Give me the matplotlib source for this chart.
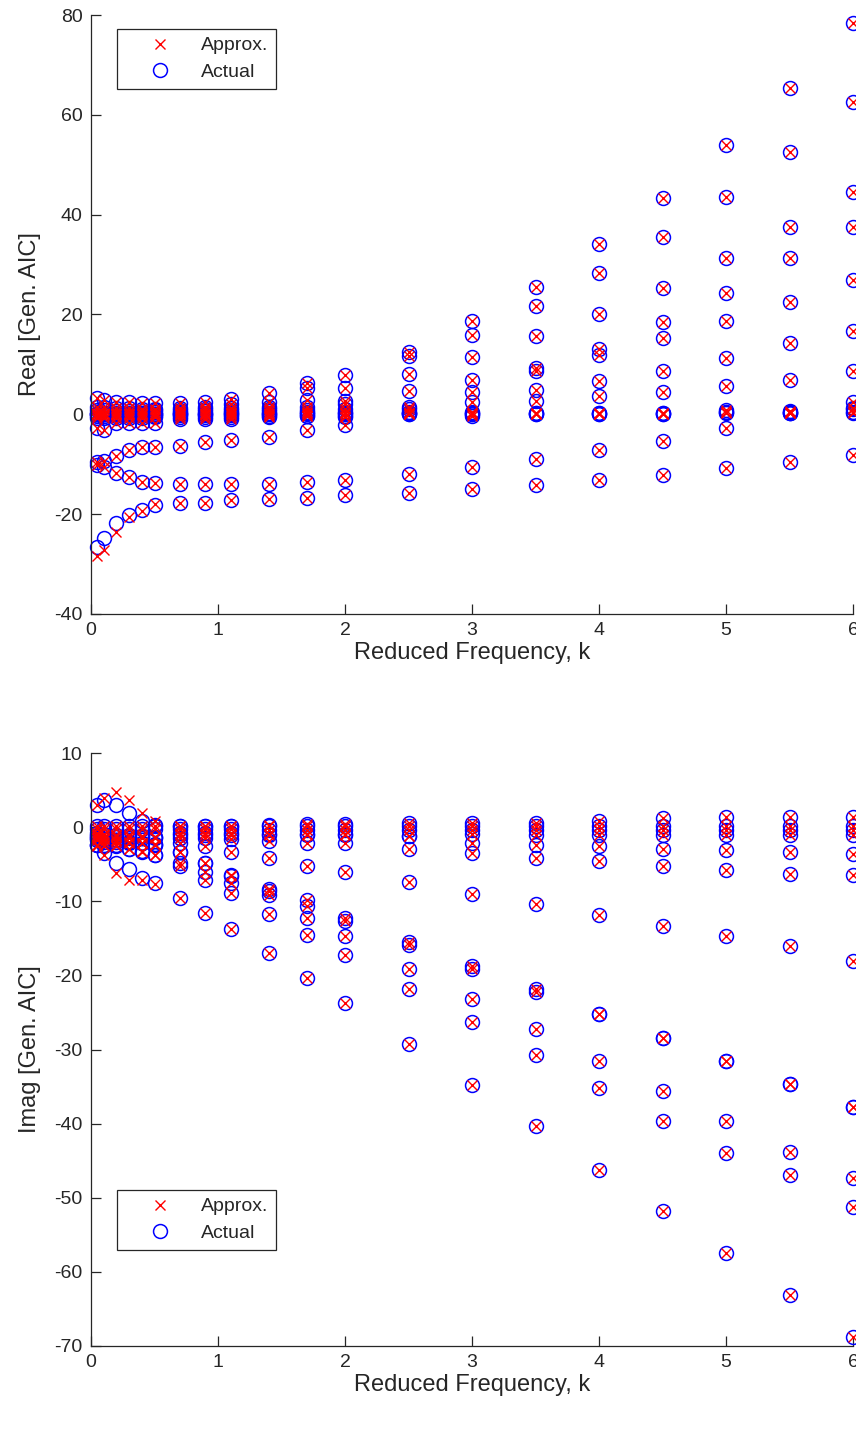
import matplotlib
matplotlib.use("Agg")
import matplotlib.pyplot as plt
from matplotlib.lines import Line2D

plt.rcParams['font.family'] = ['Liberation Sans', 'DejaVu Sans']
plt.rcParams['axes.unicode_minus'] = False

# reduced frequencies
k = [0.05, 0.1, 0.2, 0.3, 0.4, 0.5, 0.7, 0.9, 1.1, 1.4,
     1.7, 2.0, 2.5, 3.0, 3.5, 4.0, 4.5, 5.0, 5.5, 6.0]

# real part of the generalized AIC, one row per matrix entry
real_actual = [
    [3.2, 2.9, 2.5, 2.4, 2.3, 2.2, 2.2, 2.4, 3.0, 4.2, 6.2, 7.9, 12.5, 18.7, 25.6, 34.1, 43.4, 54.0, 65.3, 78.4],
    [1.5, 1.5, 1.2, 1.2, 1.1, 1.1, 1.2, 1.5, 2.0, 2.5, 5.3, 5.2, 11.6, 15.9, 21.7, 28.3, 35.5, 43.6, 52.6, 62.5],
    [0.8, 0.8, 0.7, 0.7, 0.7, 0.8, 0.8, 1.0, 1.2, 1.5, 2.9, 2.7, 8.1, 11.4, 15.6, 20.0, 25.3, 31.3, 37.6, 44.6],
    [0.3, 0.3, 0.3, 0.3, 0.3, 0.4, 0.5, 0.6, 0.8, 1.0, 1.5, 2.0, 4.6, 6.9, 9.2, 13.0, 18.4, 24.3, 31.3, 37.6],
    [0.0, 0.0, 0.0, 0.1, 0.1, 0.1, 0.2, 0.3, 0.4, 0.6, 0.8, 1.0, 1.5, 4.5, 8.7, 11.9, 15.2, 18.6, 22.6, 27.0],
    [0.0, 0.0, 0.0, 0.0, 0.0, 0.0, 0.0, 0.1, 0.2, 0.3, 0.4, 0.5, 1.0, 2.5, 4.8, 6.6, 8.6, 11.2, 14.2, 16.6],
    [0.0, 0.0, 0.0, 0.0, 0.0, 0.0, 0.0, 0.0, 0.0, 0.1, 0.2, 0.3, 0.5, 0.3, 2.6, 3.6, 4.4, 5.6, 6.9, 8.6],
    [-0.3, -0.3, -0.3, -0.3, -0.3, -0.3, -0.2, -0.2, -0.2, 0.0, 0.0, 0.0, 0.3, 0.5, 0.2, 0.2, 0.2, 0.9, 0.6, 2.5],
    [-0.8, -0.8, -0.7, -0.7, -0.7, -0.6, -0.6, -0.6, -0.5, -0.3, -0.3, -0.5, 0.0, -0.3, 0.0, 0.0, 0.0, 0.3, 0.2, 1.0],
    [-2.8, -3.1, -1.8, -1.8, -1.8, -1.8, -1.0, -1.0, -1.0, -0.6, -0.4, -0.3, 0.2, 0.0, 0.1, 0.1, 0.1, 0.5, 0.3, 0.4],
    [-9.5, -9.3, -8.3, -7.1, -6.6, -6.5, -6.3, -5.5, -5.1, -4.5, -3.1, -2.1, 0.0, 0.0, 0.3, 0.3, 0.3, 0.5, 0.3, 0.3],
    [-10.2, -10.5, -11.7, -12.6, -13.5, -13.8, -13.9, -13.9, -13.9, -13.9, -13.5, -13.1, -12.0, -10.6, -9.0, -7.1, -5.3, -2.8, 0.4, 1.2],
    [-26.5, -24.8, -21.8, -20.2, -19.2, -18.2, -17.8, -17.7, -17.2, -17.0, -16.8, -16.2, -15.7, -15.0, -14.1, -13.1, -12.1, -10.8, -9.5, -8.2],
]
real_approx = [row[:] for row in real_actual]
real_approx[12] = [-28.3, -27.2, -23.5, -20.5, -19.3, -18.0, -17.8, -17.7, -17.2, -17.0,
                   -16.8, -16.2, -15.7, -15.0, -14.1, -13.1, -12.1, -10.8, -9.5, -8.2]

# imaginary part
imag_actual = [
    [3.0, 3.6, 3.0, 1.9, 0.8, 0.3, 0.2, 0.2, 0.2, 0.3, 0.4, 0.4, 0.5, 0.5, 0.6, 0.8, 1.2, 1.4, 1.4, 1.4],
    [0.2, 0.2, 0.2, 0.2, 0.2, 0.2, 0.1, 0.1, 0.1, 0.1, 0.1, 0.1, 0.1, 0.1, 0.1, 0.1, 0.2, 0.2, 0.2, 0.2],
    [-0.3, -0.3, -0.3, -0.3, -0.3, -0.3, -0.3, -0.3, -0.3, -0.4, -0.4, -0.4, -0.4, -0.4, -0.4, -0.4, -0.4, -0.4, -0.4, -0.4],
    [-0.8, -0.9, -1.0, -1.1, -1.2, -1.3, -0.8, -0.8, -0.8, -0.9, -0.9, -0.9, -1.2, -0.9, -1.0, -1.0, -1.0, -1.1, -1.1, -1.1],
    [-1.0, -1.0, -1.1, -1.2, -1.2, -1.3, -1.4, -1.5, -1.6, -1.9, -2.1, -2.1, -3.0, -3.5, -4.2, -4.6, -5.3, -5.8, -6.3, -6.5],
    [-1.2, -1.3, -1.3, -1.4, -1.4, -1.4, -1.0, -1.0, -1.0, -1.0, -1.1, -1.1, -1.2, -2.1, -2.4, -2.6, -2.9, -3.1, -3.4, -3.6],
    [-1.8, -2.0, -2.0, -2.1, -2.2, -2.3, -2.2, -2.6, -3.3, -4.2, -5.2, -6.0, -7.4, -9.0, -10.4, -11.9, -13.4, -14.7, -16.1, -18.0],
    [-1.4, -1.6, -1.8, -2.0, -2.2, -2.4, -3.3, -4.8, -6.4, -8.4, -9.8, -12.2, -15.5, -18.7, -21.9, -25.2, -28.4, -31.5, -34.6, -37.8],
    [-1.4, -1.6, -1.8, -2.0, -2.2, -2.4, -3.3, -4.8, -6.6, -8.6, -10.7, -12.7, -15.9, -19.1, -22.2, -25.2, -28.4, -31.5, -34.6, -37.8],
    [-2.4, -2.4, -2.4, -3.0, -3.2, -3.7, -4.8, -6.0, -7.5, -9.1, -12.2, -14.7, -19.1, -23.2, -27.3, -31.6, -35.6, -39.7, -43.8, -47.4],
    [-2.4, -2.6, -2.6, -3.0, -3.3, -3.8, -5.3, -7.1, -8.9, -11.7, -14.5, -17.2, -21.8, -26.3, -30.8, -35.2, -39.7, -44.0, -46.9, -51.3],
    [-2.4, -3.5, -4.8, -5.7, -6.8, -7.5, -9.5, -11.6, -13.7, -17.0, -20.3, -23.7, -29.3, -34.8, -40.3, -46.2, -51.8, -57.5, -63.1, -68.8],
]
imag_approx = [row[:] for row in imag_actual]
imag_approx[0] = [3.0, 3.9, 4.7, 3.7, 1.9, 0.8, 0.2, 0.2, 0.2, 0.3,
                  0.4, 0.4, 0.5, 0.5, 0.6, 0.8, 1.2, 1.4, 1.4, 1.4]
imag_approx[11] = [-2.6, -3.8, -6.2, -7.1, -7.2, -7.7, -9.5, -11.6, -13.7, -17.0,
                   -20.3, -23.7, -29.3, -34.8, -40.3, -46.2, -51.8, -57.5, -63.1, -68.8]

W, H = 856, 1433
fig = plt.figure(figsize=(W / 100, H / 100), dpi=100)
ax1 = fig.add_axes([91 / W, 1 - 614 / H, 762 / W, 599 / H])
ax2 = fig.add_axes([91 / W, 1 - 1346 / H, 762 / W, 593 / H])

dark = '#262626'


def draw(ax, approx, actual, ylim, yticks, ylabel, legend_top):
    for row in actual:
        ax.plot(k, row, 'o', mfc='none', mec='b', ms=10, mew=1.1,
                clip_on=False, zorder=2)
    for row in approx:
        ax.plot(k, row, 'x', color='r', ms=6.5, mew=1.0,
                clip_on=False, zorder=3)
    ax.set_xlim(0, 6)
    ax.set_ylim(*ylim)
    ax.set_xticks(range(7))
    ax.set_yticks(yticks)
    for s in ['top', 'right']:
        ax.spines[s].set_visible(False)
    for s in ['left', 'bottom']:
        ax.spines[s].set_color(dark)
        ax.spines[s].set_linewidth(0.9)
    ax.tick_params(direction='in', length=7, width=0.9, color=dark,
                   labelcolor=dark, labelsize=14, pad=6)
    ax.set_xlabel('Reduced Frequency, k', fontsize=17, color=dark, labelpad=2)
    ax.set_ylabel(ylabel, fontsize=17, color=dark)
    ax.yaxis.set_label_coords(-0.065, 0.5)

    handles = [Line2D([], [], ls='none', marker='x', color='r', ms=6.5, mew=1.0),
               Line2D([], [], ls='none', marker='o', mfc='none', mec='b', ms=10, mew=1.1)]
    leg = ax.legend(handles, ['Approx.', 'Actual'], loc='upper left',
                    bbox_to_anchor=(117 / W, 1 - legend_top / H),
                    bbox_transform=fig.transFigure, borderaxespad=0,
                    fancybox=False, framealpha=1, edgecolor=dark,
                    fontsize=14, borderpad=0.4, handlelength=3.6,
                    handletextpad=0.3, labelspacing=0.45)
    leg.get_frame().set_linewidth(0.9)
    for t in leg.get_texts():
        t.set_color(dark)


draw(ax1, real_approx, real_actual, (-40, 80), range(-40, 81, 20),
     'Real [Gen. AIC]', 29)
draw(ax2, imag_approx, imag_actual, (-70, 10), range(-70, 11, 10),
     'Imag [Gen. AIC]', 1190)

fig.savefig('out.png', dpi=100)
